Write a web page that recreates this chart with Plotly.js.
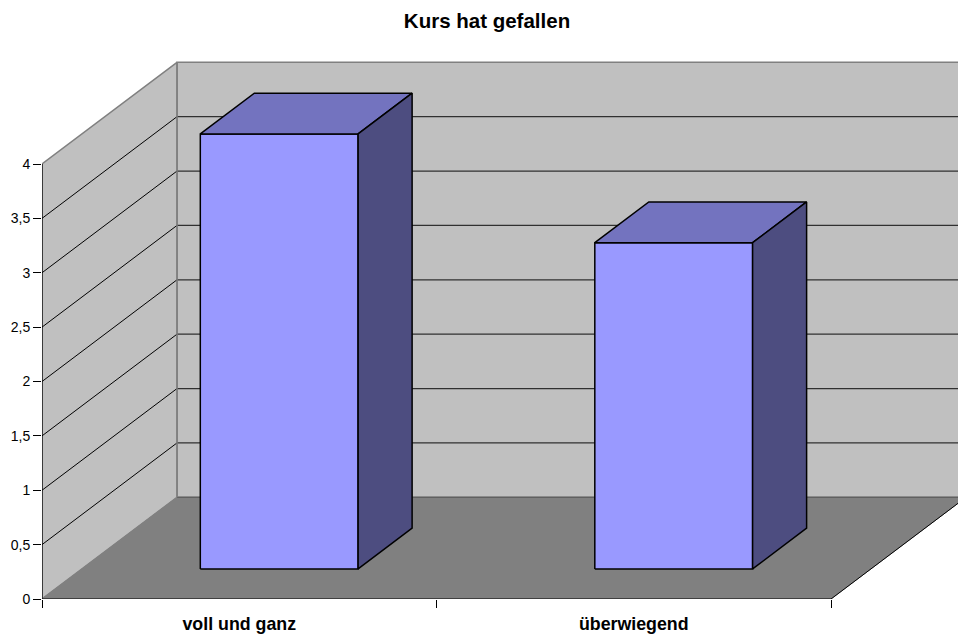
<!DOCTYPE html>
<html>
<head>
<meta charset="utf-8">
<script src="https://cdn.plot.ly/plotly-3.0.1.min.js"></script>
<style>html,body{margin:0;padding:0;background:#fff;overflow:hidden}</style>
</head>
<body>
<div id="chart" style="width:958px;height:639px"></div>
<script>
const categories = ['voll und ganz', 'überwiegend'];
const values = [4, 3];
const gridValues = [0.5, 1, 1.5, 2, 2.5, 3, 3.5];
const tickValues = [0, 0.5, 1, 1.5, 2, 2.5, 3, 3.5, 4];
const tickLabels = ['0', '0,5', '1', '1,5', '2', '2,5', '3', '3,5', '4'];
const title = 'Kurs hat gefallen';

// oblique projection of the 3D scene on the 2D axes
const maxValue = 4, catCount = 2;
const unitX = 394.5, unitY = 108.75;
const depthX = 135 / unitX, depthY = 101.7 / unitY;
const barWidth = 0.4, barDepthFront = 0.296, barDepthBack = 0.696;
const P = (c, v, d) => [c + d * depthX, v + d * depthY];

function poly(pts, fill, lineColor, lineWidth) {
  const closed = pts.concat([pts[0]]);
  return {
    type: 'scatter', mode: 'lines', x: closed.map(p => p[0]), y: closed.map(p => p[1]),
    fill: 'toself', fillcolor: fill, line: {color: lineColor, width: lineWidth, shape: 'linear'},
    hoverinfo: 'skip', showlegend: false, cliponaxis: false
  };
}
function line(pts, color, width) {
  return {
    type: 'scatter', mode: 'lines', x: pts.map(p => p[0]), y: pts.map(p => p[1]),
    line: {color: color, width: width}, hoverinfo: 'skip', showlegend: false, cliponaxis: false
  };
}

const traces = [];
// back wall, side wall, floor
traces.push(poly([P(0,0,1), P(catCount,0,1), P(catCount,maxValue,1), P(0,maxValue,1)], '#C0C0C0', '#808080', 1.5));
traces.push(poly([P(0,0,0), P(0,0,1), P(0,maxValue,1), P(0,maxValue,0)], '#C0C0C0', '#808080', 1.5));
// grid
gridValues.forEach(v => {
  traces.push(line([P(0,v,0), P(0,v,1)], '#000000', 1));
  traces.push(line([P(0,v,1), P(catCount,v,1)], '#303030', 1.2));
});
traces.push(poly([P(0,0,0), P(catCount,0,0), P(catCount,0,1), P(0,0,1)], '#808080', '#808080', 1));
traces.push(line([P(catCount,0,0), P(catCount,0,1)], '#000000', 1));
traces.push(line([P(0,0,1), P(catCount,0,1)], '#606060', 1.2));
// re-stroke the back-left corner over the grid
traces.push(line([P(0,0,1), P(0,maxValue,1)], '#808080', 1.5));
// axes
traces.push(line([P(0,0,0), P(0,maxValue,0)], '#000000', 1.2));
traces.push(line([P(0,0,0), P(catCount,0,0)], '#000000', 1.2));
// bars
values.forEach((v, i) => {
  const l = i + 0.5 - barWidth / 2, r = i + 0.5 + barWidth / 2;
  const f = barDepthFront, b = barDepthBack;
  traces.push(poly([P(l,0,f), P(r,0,f), P(r,v,f), P(l,v,f)], '#9999FF', '#000000', 1.5));
  traces.push(poly([P(l,v,f), P(r,v,f), P(r,v,b), P(l,v,b)], '#7373BF', '#000000', 1.5));
  traces.push(poly([P(r,0,f), P(r,0,b), P(r,v,b), P(r,v,f)], '#4D4D80', '#000000', 1.5));
});

const font = 'Liberation Sans, Arial, sans-serif';
const layout = {
  width: 958, height: 639,
  margin: {l: 42, r: 0, t: 40, b: 40, pad: 0},
  paper_bgcolor: '#FFFFFF', plot_bgcolor: 'rgba(0,0,0,0)',
  showlegend: false, hovermode: false,
  title: {text: title, x: 487 / 958, xanchor: 'center', y: 1 - 21 / 639, yanchor: 'middle',
          font: {family: font, size: 20.5, weight: 'bold', color: '#000000'}},
  xaxis: {
    range: [0, 916 / unitX], showgrid: false, zeroline: false, showline: false, fixedrange: true,
    tickmode: 'array', tickvals: [0.5, 1.5], ticktext: categories, ticks: '', ticklabelstandoff: 12,
    tickfont: {family: font, size: 17.8, weight: 'bold', color: '#000000'},
    minor: {tickmode: 'array', tickvals: [0, 1, 2], ticks: 'outside', ticklen: 8, tickwidth: 1, tickcolor: '#000000', showgrid: false}
  },
  yaxis: {
    range: [0, 559 / unitY], showgrid: false, zeroline: false, showline: false, fixedrange: true,
    tickmode: 'array', tickvals: tickValues, ticktext: tickLabels, ticks: 'outside', ticklen: 8, tickwidth: 1, tickcolor: '#000000',
    tickfont: {family: font, size: 14, color: '#000000'}
  }
};
Plotly.newPlot('chart', traces, layout, {displayModeBar: false, staticPlot: true});
</script>
</body>
</html>
